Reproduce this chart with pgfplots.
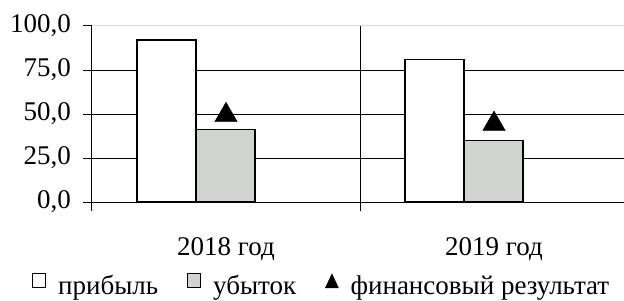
\documentclass[border=0pt]{standalone}
\usepackage{pgfplots}
\pgfplotsset{compat=1.18}
\usepackage{fontspec}
\setmainfont{Liberation Serif}
\definecolor{lossgray}{RGB}{209,211,209}
\definecolor{topgray}{RGB}{218,218,218}
\begin{document}
\fontsize{27}{32}\selectfont
\begin{tikzpicture}
\path[use as bounding box] (-92pt,-98pt) rectangle (532pt,202pt);
\begin{axis}[
  scale only axis, width=532pt, height=176pt,
  xmin=-0.5, xmax=1.485, ymin=0, ymax=100,
  axis x line*=bottom, axis y line*=left,
  axis line style={black, line width=1pt},
  ytick={0,25,50,75}, extra y ticks={100},
  extra y tick style={grid style={color=topgray, line width=1pt}},
  ymajorgrids, grid style={black, line width=1pt},
  xtick={-0.5,0.5}, xticklabels={}, xmajorgrids,
  extra x ticks={0,1}, extra x tick labels={2018 год,2019 год},
  extra x tick style={major tick length=0pt, xmajorgrids=false,
     xticklabel style={inner sep=0pt, yshift=-35pt}},
  tick align=outside, major tick length=9pt,
  tick style={black, line width=1pt},
  yticklabel style={inner sep=2pt, xshift=-10pt},
  /pgf/number format/.cd, fixed, fixed zerofill, precision=1, use comma, 1000 sep={}, assume math mode=true,
  /pgfplots/.cd,
  legend columns=3,
  legend style={draw=none, fill=none, at={(axis description cs:0.43,-0.477)}, anchor=center,
     nodes={inner sep=0pt},
     /tikz/every odd column/.append style={column sep=12pt},
     /tikz/every even column/.append style={column sep=29pt}, inner sep=0pt},
]
\addplot[ybar, bar width=0.22, bar shift=0pt, fill=white, draw=black, line width=1.2pt,
  legend image code/.code={\draw[black, fill=white, line width=0.9pt] (0pt,-1pt) rectangle (13pt,13pt);}]
  coordinates {(-0.222,92) (0.778,81)};
\addlegendentry{прибыль}
\addplot[ybar, bar width=0.22, bar shift=0pt, fill=lossgray, draw=black, line width=1.2pt,
  legend image code/.code={\draw[black, fill=lossgray, line width=0.9pt] (0pt,-1pt) rectangle (13pt,13pt);}]
  coordinates {(-0.002,41) (0.998,35)};
\addlegendentry{убыток}
\addplot[only marks, mark=triangle*, mark size=13pt, black, mark options={yshift=-3pt},
  legend image code/.code={\fill[black] (0pt,-1pt) -- (13pt,-1pt) -- (6.5pt,13pt) -- cycle;}]
  coordinates {(0,51) (1,46)};
\addlegendentry{финансовый результат}
\end{axis}
\end{tikzpicture}
\end{document}
